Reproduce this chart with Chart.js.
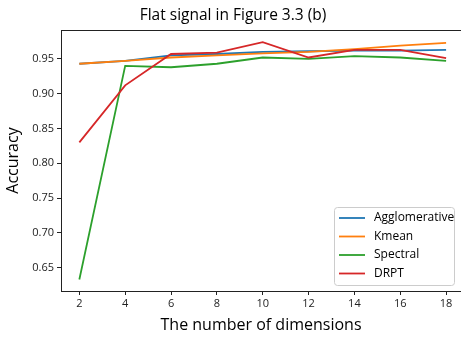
<!DOCTYPE html>
<html lang="en">
<head>
    <meta charset="UTF-8">
    <title>Flat signal</title>
    <script src="https://cdn.jsdelivr.net/npm/chart.js@4.4.0/dist/chart.umd.min.js"></script>
    <style>
        html, body { margin: 0; padding: 0; background: #fff; }
        #wrap { width: 461px; height: 337px; position: relative; }
    </style>
</head>
<body>
<div id="wrap">
    <canvas id="myChart" width="461" height="337"></canvas>
</div>
<script>
    var dims = [2, 4, 6, 8, 10, 12, 14, 16, 18];
    var agglomerative = [0.943, 0.947, 0.955, 0.957, 0.960, 0.961, 0.962, 0.962, 0.963];
    var kmean = [0.943, 0.947, 0.952, 0.955, 0.958, 0.960, 0.964, 0.969, 0.973];
    var spectral = [0.633, 0.940, 0.938, 0.943, 0.952, 0.950, 0.954, 0.952, 0.947];
    var drpt = [0.830, 0.912, 0.957, 0.959, 0.974, 0.952, 0.963, 0.963, 0.951];
    var xTicks = [2, 4, 6, 8, 10, 12, 14, 16, 18];
    var yTicks = [0.65, 0.70, 0.75, 0.80, 0.85, 0.90, 0.95];

    var FONT = "'Open Sans', 'DejaVu Sans', sans-serif";

    function pts(vals) {
        return vals.map(function (v, i) { return {x: dims[i], y: v}; });
    }

    function line(label, vals, color, order) {
        return {
            label: label,
            data: pts(vals),
            borderColor: color,
            backgroundColor: color,
            borderWidth: 1.8,
            pointRadius: 0,
            tension: 0,
            order: order
        };
    }

    // frame, title and in-plot legend (matplotlib style)
    var extras = {
        id: 'extras',
        afterDatasetsDraw: function (chart) {
            var ctx = chart.ctx, a = chart.chartArea;
            ctx.save();
            ctx.strokeStyle = '#222';
            ctx.lineWidth = 1;
            ctx.beginPath();
            ctx.moveTo(a.left + 0.5, a.bottom);
            ctx.lineTo(a.left + 0.5, a.top + 0.5);
            ctx.lineTo(a.right, a.top + 0.5);
            ctx.stroke();

            ctx.fillStyle = '#000';
            ctx.font = '15.5px ' + FONT;
            ctx.textAlign = 'center';
            ctx.textBaseline = 'middle';
            ctx.fillText('Flat signal in Figure 3.3 (b)', 233, 16);

            var bx = 334.5, by = 207.5, bw = 120, bh = 78;
            ctx.fillStyle = 'rgba(255,255,255,0.8)';
            ctx.strokeStyle = '#ccc';
            ctx.beginPath();
            ctx.roundRect(bx, by, bw, bh, 3);
            ctx.fill();
            ctx.stroke();

            ctx.font = '12px ' + FONT;
            ctx.textAlign = 'left';
            chart.data.datasets.forEach(function (ds, i) {
                var y = 218 + i * 18.5;
                ctx.strokeStyle = ds.borderColor;
                ctx.lineWidth = 1.8;
                ctx.beginPath();
                ctx.moveTo(339, y);
                ctx.lineTo(365, y);
                ctx.stroke();
                ctx.fillStyle = '#000';
                ctx.fillText(ds.label, 374, y);
            });
            ctx.restore();
        }
    };

    var ctx = document.querySelector('#myChart').getContext('2d');
    new Chart(ctx, {
        type: 'line',
        data: {
            datasets: [
                line('Agglomerative', agglomerative, '#1f77b4', 4),
                line('Kmean', kmean, '#ff7f0e', 3),
                line('Spectral', spectral, '#2ca02c', 2),
                line('DRPT', drpt, '#d62728', 1)
            ]
        },
        options: {
            responsive: false,
            animation: false,
            layout: {padding: {top: 30, left: 0, right: 0, bottom: 0}},
            plugins: {
                legend: {display: false},
                title: {display: false},
                tooltip: {enabled: false}
            },
            scales: {
                x: {
                    type: 'linear',
                    min: 1.2,
                    max: 18.65,
                    afterBuildTicks: function (s) {
                        s.ticks = xTicks.map(function (v) { return {value: v}; });
                    },
                    afterFit: function (s) { s.height = 46; },
                    grid: {drawOnChartArea: false, drawTicks: true, tickLength: 4, color: '#222'},
                    border: {display: true, color: '#222'},
                    ticks: {color: '#222', padding: 2, maxRotation: 0, font: {family: FONT, size: 11}},
                    title: {
                        display: true,
                        text: 'The number of dimensions',
                        color: '#000',
                        font: {family: FONT, size: 16},
                        padding: {top: 0, bottom: 2}
                    }
                },
                y: {
                    min: 0.6165,
                    max: 0.9915,
                    afterBuildTicks: function (s) {
                        s.ticks = yTicks.map(function (v) { return {value: v}; });
                    },
                    afterFit: function (s) { s.width = 61; },
                    grid: {drawOnChartArea: false, drawTicks: true, tickLength: 4, color: '#222'},
                    border: {display: true, color: '#222'},
                    ticks: {
                        color: '#222',
                        padding: 3,
                        font: {family: FONT, size: 11},
                        callback: function (v) { return v.toFixed(2); }
                    },
                    title: {
                        display: true,
                        text: 'Accuracy',
                        color: '#000',
                        font: {family: FONT, size: 16},
                        padding: {top: 4, bottom: 0}
                    }
                }
            }
        },
        plugins: [extras]
    });
</script>
</body>
</html>
